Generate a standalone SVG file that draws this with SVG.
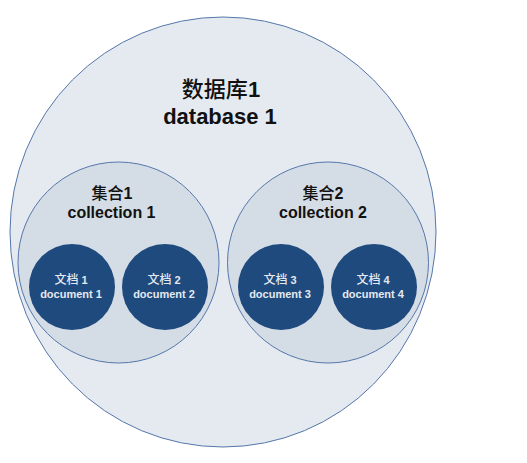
<svg xmlns="http://www.w3.org/2000/svg" width="527" height="463" viewBox="0 0 527 463">
<style>
.db{fill:#e5eaf0;stroke:#5577aa;stroke-width:1}
.col{fill:#d4dce5;stroke:#5577aa;stroke-width:1}
.doc{fill:#1f4a7e;stroke:none}
text{font-family:"Liberation Sans","Noto Sans CJK SC",sans-serif;font-weight:bold;text-anchor:middle}
.cjk{font-weight:500}
.t1{font-size:22px;fill:#111}
.t2{font-size:16px;fill:#111}
.t3{font-size:11px;fill:#e4e9f0}
.t3 .cjk{font-size:12px}
</style>
<rect width="527" height="463" fill="#ffffff"/>
<g id="database1">
<ellipse class="db" cx="223" cy="232" rx="213" ry="215"/>
<text class="t1" x="221" y="97"><tspan class="cjk">数据库</tspan>1</text>
<text class="t1" x="220" y="124">database 1</text>
</g>
<g id="collection1">
<circle class="col" cx="118.5" cy="262.5" r="100.5"/>
<text class="t2" x="112" y="199"><tspan class="cjk">集合</tspan>1</text>
<text class="t2" x="111.5" y="218">collection 1</text>
</g>
<g id="collection2">
<circle class="col" cx="328" cy="262.5" r="100.5"/>
<text class="t2" x="323" y="199"><tspan class="cjk">集合</tspan>2</text>
<text class="t2" x="323" y="218">collection 2</text>
</g>
<g id="document1">
<circle class="doc" cx="72" cy="287" r="43"/>
<text class="t3" x="71" y="284"><tspan class="cjk">文档</tspan> 1</text>
<text class="t3" x="71" y="298">document 1</text>
</g>
<g id="document2">
<circle class="doc" cx="165" cy="287" r="43"/>
<text class="t3" x="164" y="284"><tspan class="cjk">文档</tspan> 2</text>
<text class="t3" x="164" y="298">document 2</text>
</g>
<g id="document3">
<circle class="doc" cx="281" cy="287" r="43"/>
<text class="t3" x="280" y="284"><tspan class="cjk">文档</tspan> 3</text>
<text class="t3" x="280" y="298">document 3</text>
</g>
<g id="document4">
<circle class="doc" cx="374" cy="287" r="43"/>
<text class="t3" x="373" y="284"><tspan class="cjk">文档</tspan> 4</text>
<text class="t3" x="373" y="298">document 4</text>
</g>
<g id="connectors"/>
</svg>
